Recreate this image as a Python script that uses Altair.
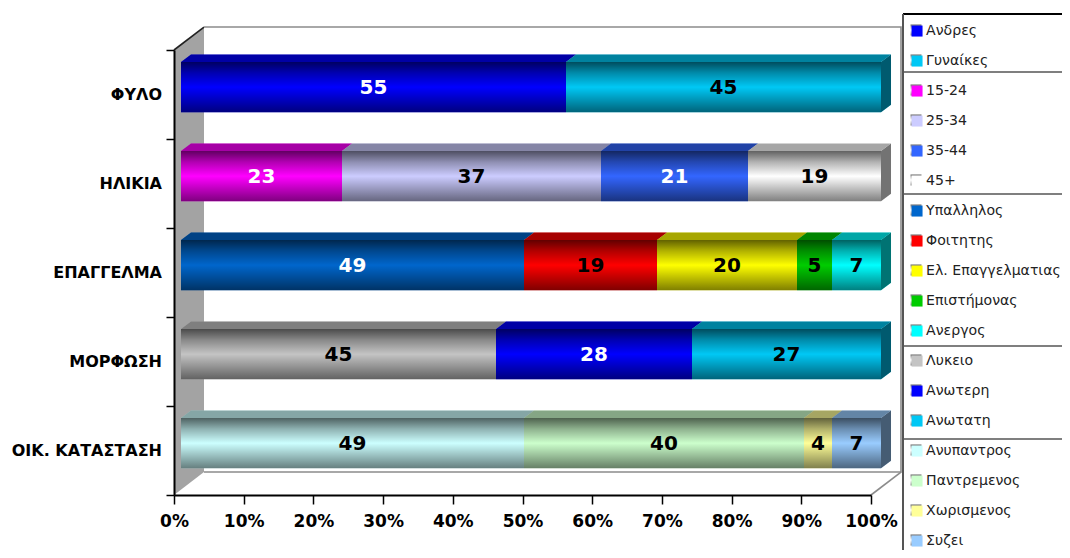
import altair as alt
import pandas as pd

CATEGORIES = ["ΦΥΛΟ", "ΗΛΙΚΙΑ", "ΕΠΑΓΓΕΛΜΑ", "ΜΟΡΦΩΣΗ", "ΟΙΚ. ΚΑΤΑΣΤΑΣΗ"]
SERIES = [
    ["Ανδρες", "Γυναίκες"],
    ["15-24", "25-34", "35-44", "45+"],
    ["Υπαλληλος", "Φοιτητης", "Ελ. Επαγγελματιας", "Επιστήμονας", "Ανεργος"],
    ["Λυκειο", "Ανωτερη", "Ανωτατη"],
    ["Ανυπαντρος", "Παντρεμενος", "Χωρισμενος", "Συζει"],
]
VALUES = [
    [55, 45],
    [23, 37, 21, 19],
    [49, 19, 20, 5, 7],
    [45, 28, 27],
    [49, 40, 4, 7],
]
COLORS = [
    ["#0000ff", "#00c8f5"],
    ["#ff00ff", "#ccccff", "#3366ff", "#ffffff"],
    ["#0066cc", "#ff0000", "#ffff00", "#00cc00", "#00ffff"],
    ["#c4c4c4", "#0000ff", "#00c8f5"],
    ["#ccffff", "#ccffcc", "#ffff99", "#99ccff"],
]
WHITE_TEXT = {"Ανδρες", "15-24", "35-44", "Υπαλληλος", "Ανωτερη"}

BAR_TOP, BAR_BOTTOM = 0.135, 0.70
DX, DY = 1.43, 0.085
WALL_DX, WALL_DY = 4.304, 0.258

rows, tops, sides = [], [], []
for i, (names, vals) in enumerate(zip(SERIES, VALUES)):
    start = 0
    for name, v in zip(names, vals):
        end = start + v
        rows.append(dict(series=name, start=start, end=end, mid=(start + end) / 2, value=v,
                         top=i + BAR_TOP, bottom=i + BAR_BOTTOM, cy=i + (BAR_TOP + BAR_BOTTOM) / 2,
                         white=name in WHITE_TEXT))
        tops.append(dict(series=name, y=i + BAR_TOP - DY, a=start + DX, b=end + DX))
        tops.append(dict(series=name, y=i + BAR_TOP, a=start, b=end))
        start = end
    sides.append(dict(series=names[-1], row=i, x=100, y=i + BAR_TOP, y2=i + BAR_BOTTOM))
    sides.append(dict(series=names[-1], row=i, x=100 + DX, y=i + BAR_TOP - DY, y2=i + BAR_BOTTOM - DY))

bars = pd.DataFrame(rows)
top_df = pd.DataFrame(tops)
side_df = pd.DataFrame(sides)
cat_df = pd.DataFrame({"cat": CATEGORIES, "y": [i + 0.5 for i in range(5)]})
wall_df = pd.DataFrame({"x": [0, WALL_DX], "y": [0, -WALL_DY], "y2": [5, 5 - WALL_DY]})

lines_dark = [(0, [(0, 0), (WALL_DX, -WALL_DY)])]
lines_grey = [
    (1, [(WALL_DX, -WALL_DY), (100 + WALL_DX, -WALL_DY), (100 + WALL_DX, 5 - WALL_DY), (WALL_DX, 5 - WALL_DY)]),
    (2, [(100, 5), (100 + WALL_DX, 5 - WALL_DY)]),
]
def line_frame(lines):
    return pd.DataFrame([dict(id=k, order=j, x=p[0], y=p[1]) for k, pts in lines for j, p in enumerate(pts)])

AXIS_X = alt.Scale(domain=[0, 100], range=[0, 697])
BAR_X = alt.Scale(domain=[0, 100], range=[7, 707])
Y = alt.Scale(domain=[5, 0])
PX = alt.Scale(domain=[0, 445], range=[0, 445])
FONT = "DejaVu Sans"

ROW_H = 30.0
FIRST_ROW = -20.0   # centre of the first legend row, from the plot's top

legend = alt.Legend(
    orient="none", legendX=736, legendY=-26, title=None, symbolType="square", symbolSize=121,
    symbolStrokeWidth=0, labelFont=FONT, labelFontSize=14.1, labelColor="#222222",
    labelLimit=300, labelOffset=2, rowPadding=15.0, padding=0,
)
color = alt.Color("series:N", legend=legend, scale=alt.Scale(
    domain=[s for g in SERIES for s in g], range=[c for g in COLORS for c in g]))

SHADE = alt.LinearGradient(gradient="linear", x1=0, y1=0, x2=0, y2=1, stops=[
    alt.GradientStop(color="rgba(0,0,0,0.62)", offset=0),
    alt.GradientStop(color="rgba(0,0,0,0.30)", offset=0.22),
    alt.GradientStop(color="rgba(0,0,0,0)", offset=0.5),
    alt.GradientStop(color="rgba(0,0,0,0.30)", offset=0.8),
    alt.GradientStop(color="rgba(0,0,0,0.50)", offset=1),
])

wall = alt.Chart(wall_df).mark_area(orient="vertical", color="#a3a3a3").encode(
    x=alt.X("x:Q", scale=AXIS_X, axis=alt.Axis(
        values=list(range(0, 101, 10)), labelExpr="datum.value + '%'", title=None, grid=False,
        labelFont=FONT, labelFontWeight="bold", labelFontSize=17, labelColor="#000000", labelPadding=9,
        tickColor="#000000", tickSize=9, tickWidth=1.5, domainColor="#000000", domainWidth=2, zindex=1,
        labelOverlap=False, labelFlush=False)),
    y=alt.Y("y:Q", scale=Y, axis=alt.Axis(
        values=[0, 1, 2, 3, 4, 5], labels=False, title=None, grid=False, tickColor="#000000",
        tickSize=8, tickWidth=1.5, domainColor="#000000", domainWidth=2, zindex=1)),
    y2="y2:Q",
)
def wall_line(lines, c):
    return alt.Chart(line_frame(lines)).mark_line(strokeWidth=1.6, color=c).encode(
        x=alt.X("x:Q", scale=AXIS_X, axis=None), y=alt.Y("y:Q", scale=Y, axis=None),
        detail="id:N", order="order:Q",
    )
top_face = alt.Chart(top_df).mark_area(orient="horizontal").encode(
    x=alt.X("a:Q", scale=BAR_X, axis=None), x2="b:Q", y=alt.Y("y:Q", scale=Y, axis=None),
    color=color, detail="series:N",
)
top_shade = alt.Chart(top_df).mark_area(orient="horizontal", color="#000000", opacity=0.35).encode(
    x=alt.X("a:Q", scale=BAR_X, axis=None), x2="b:Q", y=alt.Y("y:Q", scale=Y, axis=None), detail="series:N",
)
side_face = alt.Chart(side_df).mark_area(orient="vertical").encode(
    x=alt.X("x:Q", scale=BAR_X, axis=None), y=alt.Y("y:Q", scale=Y, axis=None), y2="y2:Q",
    color=color, detail="row:N",
)
side_shade = alt.Chart(side_df).mark_area(orient="vertical", color="#000000", opacity=0.55).encode(
    x=alt.X("x:Q", scale=BAR_X, axis=None), y=alt.Y("y:Q", scale=Y, axis=None), y2="y2:Q", detail="row:N",
)
front = alt.Chart(bars).mark_bar().encode(
    x=alt.X("start:Q", scale=BAR_X, axis=None), x2="end:Q",
    y=alt.Y("top:Q", scale=Y, axis=None), y2="bottom:Q", color=color,
)
front_shade = alt.Chart(bars).mark_bar(color=SHADE).encode(
    x=alt.X("start:Q", scale=BAR_X, axis=None), x2="end:Q",
    y=alt.Y("top:Q", scale=Y, axis=None), y2="bottom:Q",
)
def value_text(df, c):
    return alt.Chart(df).mark_text(
        font=FONT, fontWeight="bold", fontSize=20, baseline="middle", align="center", dy=1, color=c).encode(
        x=alt.X("mid:Q", scale=BAR_X, axis=None), y=alt.Y("cy:Q", scale=Y, axis=None), text="value:Q",
    )
cat_text = alt.Chart(cat_df).mark_text(
    font=FONT, fontWeight="bold", fontSize=16, align="right", baseline="middle", color="#000000").encode(
    x=alt.value(-12), y=alt.Y("y:Q", scale=Y, axis=None), text="cat:N",
)

# legend frame, group separators and the shading over each legend swatch
SEP_Y = [22, 144, 296, 389]
seps = alt.Chart(pd.DataFrame({"y": SEP_Y})).mark_rule(color="#555555", strokeWidth=1.5).encode(
    x=alt.value(730), x2=alt.value(896), y=alt.Y("y:Q", scale=PX, axis=None),
)
swatch_df = pd.DataFrame({"a": [FIRST_ROW + ROW_H * i - 5.5 for i in range(18)],
                          "b": [FIRST_ROW + ROW_H * i + 5.5 for i in range(18)]})
swatches = alt.Chart(swatch_df).mark_rect(color=SHADE).encode(
    x=alt.value(736.5), x2=alt.value(747.5), y=alt.Y("a:Q", scale=PX, axis=None), y2="b:Q",
)
frame_top = alt.Chart(pd.DataFrame({"a": [0]})).mark_rule(color="#000000", strokeWidth=2).encode(
    x=alt.value(729), x2=alt.value(896), y=alt.value(-36),
)
frame_left = alt.Chart(pd.DataFrame({"a": [0]})).mark_rule(color="#555555", strokeWidth=2).encode(
    x=alt.value(729), y=alt.value(-36), y2=alt.value(500),
)

chart = alt.layer(
    wall, wall_line(lines_dark, "#222222"), wall_line(lines_grey, "#8c8c8c"),
    top_face, top_shade, side_face, side_shade, front, front_shade,
    value_text(bars[bars.white], "#ffffff"), value_text(bars[~bars.white], "#000000"), cat_text,
    alt.layer(seps, swatches).resolve_scale(y="independent"), frame_top, frame_left,
).resolve_scale(x="independent").properties(
    width=697, height=445,
    autosize=alt.AutoSizeParams(type="none"),
    padding={"left": 166, "top": 42, "right": 191, "bottom": 55},
    background="#ffffff",
).configure_view(stroke=None)

chart.save("out.html", embed_options={"renderer": "svg", "actions": False})
